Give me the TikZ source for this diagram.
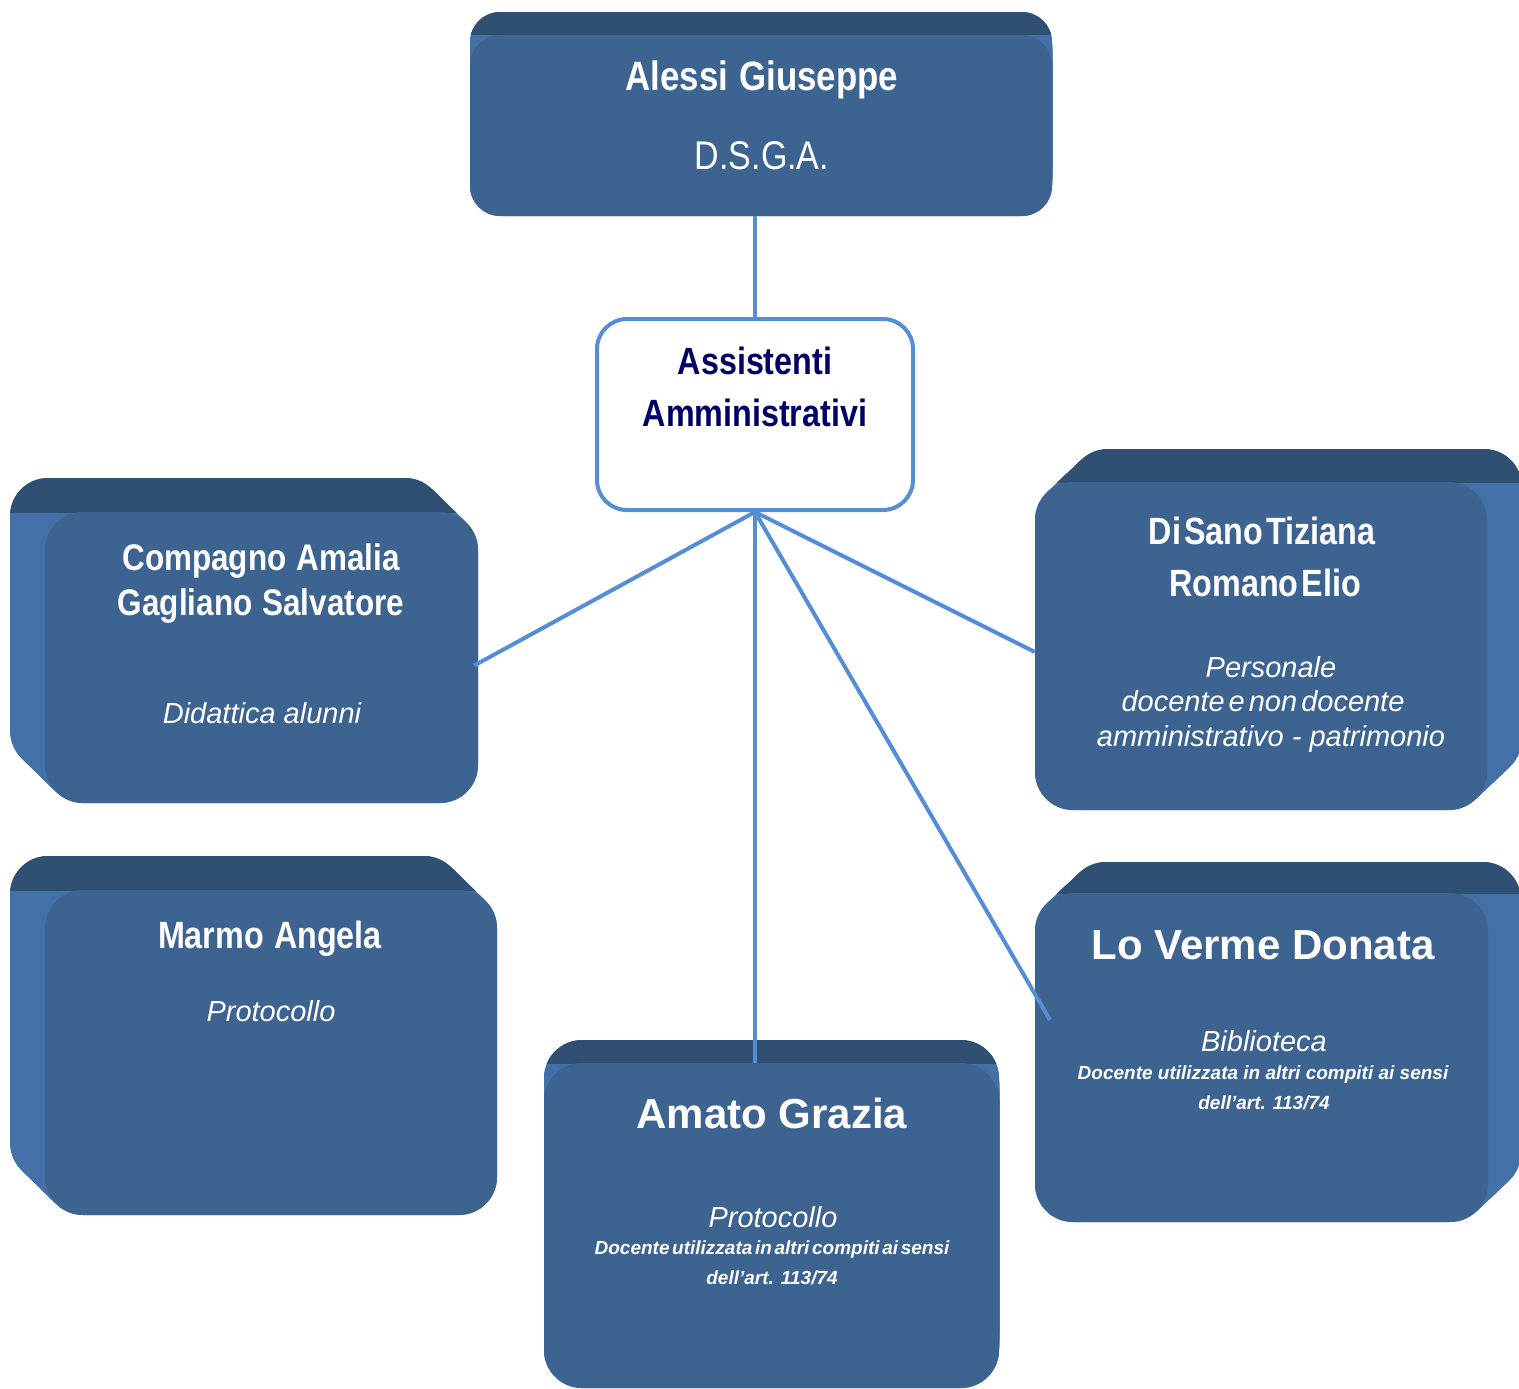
\documentclass[tikz,border=0pt]{standalone}
\usepackage{fontspec}
\setmainfont{Liberation Sans}
\newfontfamily\narrowfont[FakeStretch=0.85]{Liberation Sans}
\newfontfamily\tightfont[WordSpace=0.2]{Liberation Sans}
\newfontfamily\halftight[WordSpace=0.5]{Liberation Sans}
\newcommand{\wordgap}[1]{\fontdimen2\font=#1\relax}
\usetikzlibrary{positioning}
\definecolor{frontblue}{RGB}{61, 99, 145}
\definecolor{topblue}{RGB}{47, 79, 115}
\definecolor{sideblue}{RGB}{68, 112, 168}
\definecolor{linkblue}{RGB}{85, 142, 213}
\definecolor{hubnavy}{RGB}{0, 0, 102}

\begin{document}
\begin{tikzpicture}[
  x=1pt, y=-1pt,
  face/.style={rectangle, rounded corners=38pt, fill=frontblue, inner sep=0pt},
  hub/.style={rectangle, rounded corners=30pt, draw=linkblue, line width=4pt, fill=white,
              minimum width=316pt, minimum height=191pt, inner sep=0pt},
  person/.style={text=white, inner sep=0pt, anchor=base,
                 font=\narrowfont\bfseries\fontsize{37}{44}\selectfont\wordgap{0.27em}},
  bigperson/.style={text=white, inner sep=0pt, anchor=base, font=\bfseries\fontsize{42}{50}\selectfont},
  duty/.style={text=white, inner sep=0pt, anchor=base, font=\itshape\fontsize{29}{34}\selectfont},
  note/.style={text=white, inner sep=0pt, anchor=base, font=\bfseries\itshape\fontsize{19}{23}\selectfont},
  hubtext/.style={text=hubnavy, inner sep=0pt, anchor=base, font=\narrowfont\bfseries\fontsize{38}{44}\selectfont},
  link/.style={linkblue, line width=4pt}
]
  \clip (0,0) rectangle (1519,1389);

  % depth of the boxes: side faces, then darker top faces
  \foreach \xa/\ya/\xb/\yb/\dx/\dy/\r in {470/35/1052/216/0/-23/30, 45/512/478/803/-35/-34/38,
      1035/482/1487/810/35/-33/38, 45/890/497/1215/-35/-34/38,
      1035/893/1488/1222/33/-31/38, 544/1063/999/1388/0/-23/38}{
    \foreach \t in {0,0.04,...,1.01}
      \fill[sideblue, rounded corners=\r pt] (\xa+\t*\dx, \ya+\t*\dy) rectangle (\xb+\t*\dx, \yb+\t*\dy);
    \begin{scope}
      \clip (-50,-50) rectangle (1600,\ya);
      \foreach \t in {0,0.04,...,1.01}
        \fill[topblue, rounded corners=\r pt] (\xa+\t*\dx, \ya+\t*\dy) rectangle (\xb+\t*\dx, \yb+\t*\dy);
    \end{scope}
  }

  % front faces
  \node[face, rounded corners=30pt, minimum width=582pt, minimum height=181pt] (alessi) at (761,125.5) {};
  \node[face, minimum width=433pt, minimum height=291pt] (compagno) at (261.5,657.5) {};
  \node[face, minimum width=452pt, minimum height=328pt] (disano) at (1261,646) {};
  \node[face, minimum width=452pt, minimum height=325pt] (marmo) at (271,1052.5) {};
  \node[face, minimum width=453pt, minimum height=329pt] (loverme) at (1261.5,1057.5) {};
  \node[face, minimum width=455pt, minimum height=325pt] (amato) at (771.5,1225.5) {};
  \node[hub] (assist) at (755,414.5) {};

  % texts
  \node[person, font=\narrowfont\bfseries\fontsize{41}{48}\selectfont\wordgap{0.27em}] (alessi-name) at (762,91) {Alessi Giuseppe};
  \node[person, font=\narrowfont\fontsize{40}{48}\selectfont] (alessi-role) at (762,169) {D.S.G.A.};

  \node[hubtext] (assist-a) at (755,374) {Assistenti};
  \node[hubtext] (assist-b) at (755,426) {Amministrativi};

  \node[person] (compagno-a) at (261,570) {Compagno Amalia};
  \node[person] (compagno-b) at (261,615) {Gagliano Salvatore};
  \node[duty] (compagno-d) at (262,723) {Didattica alunni};

  \node[person, font=\narrowfont\bfseries\fontsize{38}{44}\selectfont\wordgap{0.08em}] (disano-a) at (1262,544) {Di Sano Tiziana};
  \node[person, font=\narrowfont\bfseries\fontsize{38}{44}\selectfont\wordgap{0.08em}] (disano-b) at (1265,596) {Romano Elio};
  \node[duty] (disano-c) at (1271,677) {Personale};
  \node[duty, font=\tightfont\itshape\fontsize{29}{34}\selectfont] (disano-d) at (1263,711) {docente e non docente};
  \node[duty] (disano-e) at (1271,746) {amministrativo - patrimonio};

  \node[person, font=\narrowfont\bfseries\fontsize{38}{44}\selectfont\wordgap{0.27em}] (marmo-a) at (270,948) {Marmo Angela};
  \node[duty] (marmo-d) at (271,1021) {Protocollo};

  \node[bigperson] (loverme-a) at (1263,959) {Lo Verme Donata};
  \node[duty] (loverme-d) at (1264,1051) {Biblioteca};
  \node[note] (loverme-n) at (1263,1079) {Docente utilizzata in altri compiti ai sensi};
  \node[note] (loverme-m) at (1264,1109) {dell’art. 113/74};

  \node[bigperson] (amato-a) at (772,1128) {Amato Grazia};
  \node[duty] (amato-d) at (773,1227) {Protocollo};
  \node[note, font=\halftight\bfseries\itshape\fontsize{19}{23}\selectfont] (amato-n) at (772,1254) {Docente utilizzata in altri compiti ai sensi};
  \node[note] (amato-m) at (772,1284) {dell’art. 113/74};

  % connectors
  \coordinate (lv-end) at (1050,1020);
  \draw[link] (assist.north |- alessi.south) -- (assist.north);
  \draw[link] (assist.south) -- ([xshift=-4pt, yshift=-8pt]compagno.east);
  \draw[link] (assist.south) -- ([yshift=-6pt]disano.west);
  \draw[link] (assist.south) -- (assist.south |- amato.north);
  \draw[link] (assist.south) -- (lv-end);
\end{tikzpicture}
\end{document}
